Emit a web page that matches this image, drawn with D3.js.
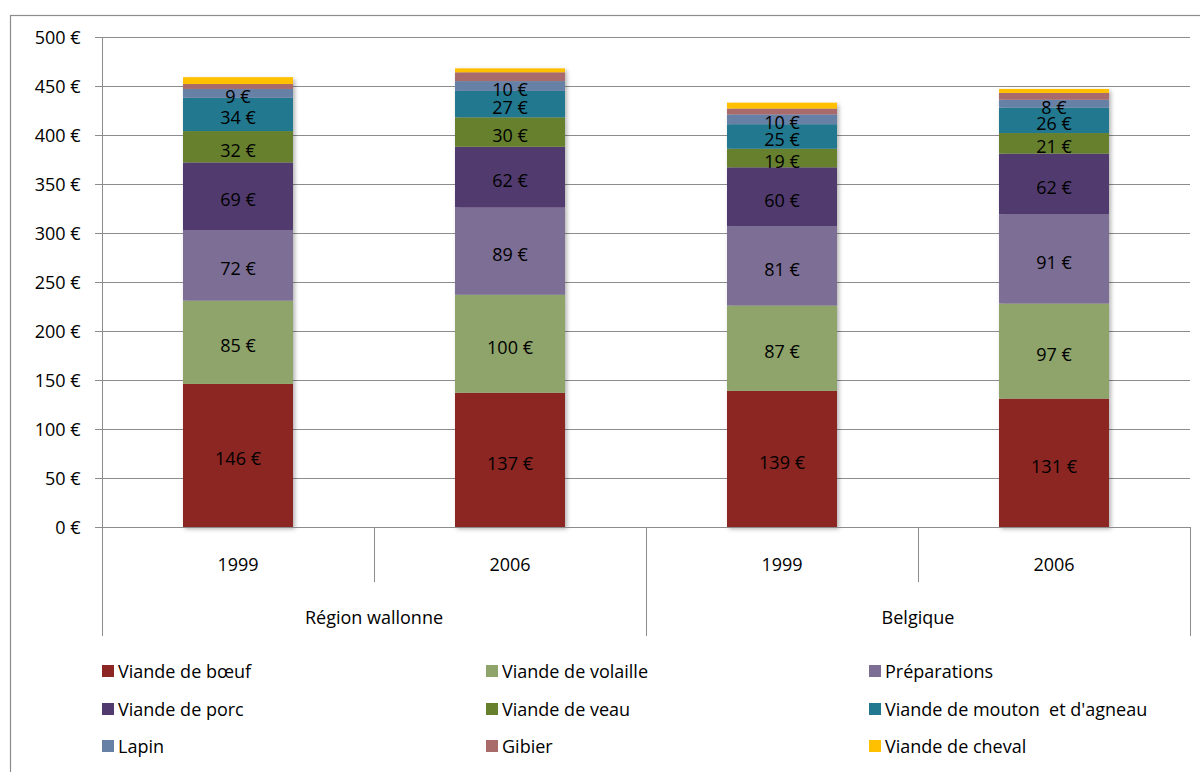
<!DOCTYPE html>
<html>
<head>
<meta charset="utf-8">
<script src="https://cdn.jsdelivr.net/npm/d3@7"></script>
<style>
  html, body { margin: 0; padding: 0; background: #fff; }
  svg { display: block; font-family: "Open Sans", Lato, sans-serif; }
  .legend text { white-space: pre; }
</style>
</head>
<body>
<svg id="chart" width="1200" height="772"></svg>
<script>
// Dépenses annuelles par ménage en viande (€), par type
const groups = ["Région wallonne", "Région wallonne", "Belgique", "Belgique"];
const years = ["1999", "2006", "1999", "2006"];
const seriesNames = [
  "Viande de bœuf", "Viande de volaille", "Préparations",
  "Viande de porc", "Viande de veau", "Viande de mouton  et d'agneau",
  "Lapin", "Gibier", "Viande de cheval"
];
const boeuf    = [146, 137, 139, 131];
const volaille = [85, 100, 87, 97];
const prep     = [72, 89, 81, 91];
const porc     = [69, 62, 60, 62];
const veau     = [32, 30, 19, 21];
const mouton   = [34, 27, 25, 26];
const lapin    = [9, 10, 10, 8];
const gibier   = [5, 9, 6, 7];
const cheval   = [7, 4, 6, 4];
const showLabel = [true, true, true, true, true, true, true, false, false];
const yTicks = [0, 50, 100, 150, 200, 250, 300, 350, 400, 450, 500];
const colors = ["#8B2624", "#8EA46A", "#7C6E94", "#513B6E", "#66802E", "#22788F", "#6680A6", "#A86B6A", "#FFC000"];

const values = [boeuf, volaille, prep, porc, veau, mouton, lapin, gibier, cheval];
const rows = years.map((y, i) => {
  const r = { idx: i };
  seriesNames.forEach((s, k) => r[s] = values[k][i]);
  return r;
});

const FONT = 18;
const svg = d3.select("#chart");
const plot = { left: 102, right: 1190, top: 37, bottom: 527 };

// cadre du graphique
svg.append("rect").attr("x", 10.5).attr("y", 15.5).attr("width", 1200).attr("height", 800)
  .attr("fill", "none").attr("stroke", "#8c8c8c").attr("stroke-width", 1.2);

const x = d3.scaleBand().domain(d3.range(years.length)).range([plot.left, plot.right]).paddingInner(0).paddingOuter(0);
const y = d3.scaleLinear().domain([0, 500]).range([plot.bottom, plot.top]);

// grille horizontale
svg.append("g").selectAll("line").data(yTicks.filter(t => t > 0)).join("line")
  .attr("x1", plot.left - 7).attr("x2", plot.right)
  .attr("y1", d => Math.round(y(d)) + 0.5).attr("y2", d => Math.round(y(d)) + 0.5)
  .attr("stroke", "#8c8c8c").attr("stroke-width", 1);

// axe vertical
const yAxis = d3.axisLeft(y).tickValues(yTicks).tickSize(7).tickPadding(15)
  .tickFormat(d => d + " €");
const gy = svg.append("g").attr("transform", `translate(${plot.left + 0.5},0)`).call(yAxis);
gy.select(".domain").attr("stroke", "#8c8c8c").attr("d", `M0,${plot.top}V${plot.bottom}`);
gy.selectAll(".tick line").attr("stroke", "#8c8c8c");
gy.selectAll(".tick text").attr("font-size", FONT).attr("fill", "#000")
  .attr("font-family", "'Open Sans', sans-serif").attr("dy", "0.36em");

// ombre des barres
const defs = svg.append("defs");
const f = defs.append("filter").attr("id", "shadow").attr("x", "-10%").attr("y", "-10%").attr("width", "130%").attr("height", "130%");
f.append("feDropShadow").attr("dx", 2).attr("dy", 2).attr("stdDeviation", 2).attr("flood-color", "#000").attr("flood-opacity", 0.3);

const stack = d3.stack().keys(seriesNames);
const stacked = stack(rows);
const barW = 110;

const bars = svg.append("g");
bars.selectAll("g.bar").data(years.map((_, i) => i)).join("g")
  .attr("filter", "url(#shadow)")
  .each(function(i) {
    const g = d3.select(this);
    stacked.forEach((layer, k) => {
      const d = layer[i];
      g.append("rect")
        .attr("x", x(i) + x.bandwidth() / 2 - barW / 2)
        .attr("width", barW)
        .attr("y", y(d[1]))
        .attr("height", y(d[0]) - y(d[1]))
        .attr("fill", colors[k]);
    });
  });

// étiquettes de valeurs
const labels = svg.append("g");
stacked.forEach((layer, k) => {
  if (!showLabel[k]) return;
  layer.forEach((d, i) => {
    labels.append("text")
      .attr("x", x(i) + x.bandwidth() / 2)
      .attr("y", y((d[0] + d[1]) / 2))
      .attr("dy", "0.55em")
      .attr("text-anchor", "middle")
      .attr("font-size", FONT)
      .attr("fill", "#000")
      .text(values[k][i] + " €");
  });
});

// axe horizontal à deux niveaux
const axis = svg.append("g").attr("stroke", "#8c8c8c").attr("stroke-width", 1);
axis.append("line").attr("x1", plot.left - 7).attr("x2", plot.right).attr("y1", plot.bottom + 0.5).attr("y2", plot.bottom + 0.5);
// séparateurs d'années
[1, 3].forEach(i => {
  axis.append("line").attr("x1", Math.round(x(i)) + 0.5).attr("x2", Math.round(x(i)) + 0.5)
    .attr("y1", plot.bottom).attr("y2", 582);
});
// séparateurs de groupes
[0, 2, 4].forEach(i => {
  const xx = i < 4 ? x(i) : plot.right;
  axis.append("line").attr("x1", Math.round(xx) + 0.5).attr("x2", Math.round(xx) + 0.5)
    .attr("y1", plot.bottom).attr("y2", 636);
});

svg.append("g").selectAll("text").data(years).join("text")
  .attr("x", (d, i) => x(i) + x.bandwidth() / 2)
  .attr("y", 565).attr("dy", "0.36em")
  .attr("text-anchor", "middle").attr("font-size", FONT).attr("fill", "#000")
  .text(d => d);

const groupNames = Array.from(new Set(groups));
svg.append("g").selectAll("text").data(groupNames).join("text")
  .attr("x", (g) => {
    const idx = groups.map((v, i) => v === g ? i : -1).filter(i => i >= 0);
    return (x(idx[0]) + x(idx[idx.length - 1]) + x.bandwidth()) / 2;
  })
  .attr("y", 618).attr("dy", "0.36em")
  .attr("text-anchor", "middle").attr("font-size", FONT).attr("fill", "#000")
  .text(d => d);

// légende
const legX = [102, 486, 869], legY = [672, 710, 747];
const leg = svg.append("g").attr("class", "legend");
seriesNames.forEach((s, k) => {
  const cx = legX[k % 3], cy = legY[Math.floor(k / 3)];
  leg.append("rect").attr("x", cx).attr("y", cy - 7).attr("width", 12).attr("height", 12).attr("fill", colors[k]);
  leg.append("text").attr("x", cx + 16).attr("y", cy).attr("dy", "0.36em")
    .attr("font-size", FONT).attr("fill", "#000").text(s);
});
</script>
</body>
</html>
